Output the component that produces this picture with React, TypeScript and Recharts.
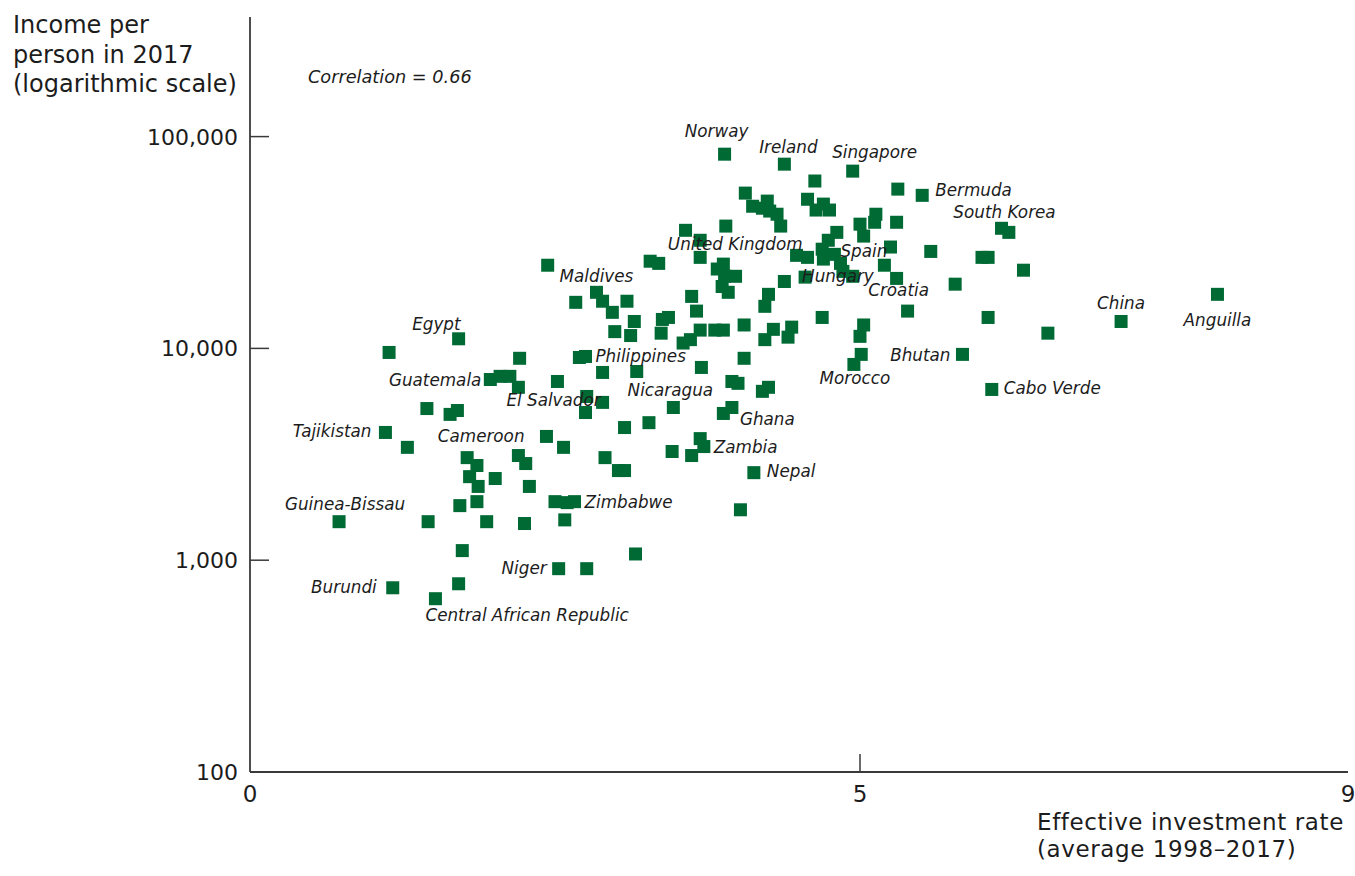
import React from 'react';
import { ScatterChart, Scatter, XAxis, YAxis } from 'recharts';

// ---------------- data ----------------
const countries: string[] = [
  'Norway', 'Ireland', 'Singapore', '', '', 'Bermuda', '', '', '', '',
  '', '', '', '', '', '', '', '', '', '',
  '', '', '', '', '', '', '', '', '', '',
  'United Kingdom', '', '', '', 'Spain', '', '', '', '', 'Croatia',
  '', 'Hungary', '', '', '', '', '', '', '', '',
  '', '', '', '', '', '', 'Maldives', '', '', '',
  '', '', '', '', '', '', '', '', '', '',
  '', '', '', '', '', '', '', '', '', '',
  '', '', 'Morocco', 'Bhutan', 'Cabo Verde', 'South Korea', '', '', '', '',
  '', '', 'China', 'Anguilla', '', 'Philippines', '', '', '', '',
  '', '', '', '', '', '', '', 'Nicaragua', '', 'Ghana',
  '', '', '', '', '', 'Zambia', '', '', '', '',
  'Nepal', '', '', 'Zimbabwe', '', '', '', '', '', 'Guinea-Bissau',
  '', '', '', '', 'Niger', '', 'Burundi', '', 'Central African Republic', 'Egypt',
  '', '', 'Guatemala', '', '', 'El Salvador', '', '', '', '',
  'Tajikistan', '', '', 'Cameroon', '', '', '', '', '', '',
  '',
];

const investment: number[] = [
  3.89, 4.38, 4.94, 4.63, 5.31, 5.51, 4.06, 4.12, 4.2, 4.24,
  4.26, 4.32, 4.35, 4.57, 4.64, 4.7, 4.75, 3.9, 3.57, 5.13,
  5.12, 5.0, 5.3, 4.81, 4.74, 5.03, 5.25, 5.58, 3.69, 3.69,
  4.48, 4.57, 4.69, 4.7, 4.79, 4.84, 4.86, 4.94, 5.2, 5.3,
  5.78, 4.55, 4.38, 4.25, 4.22, 5.39, 4.69, 3.83, 3.88, 3.89,
  3.87, 3.92, 3.98, 3.28, 3.35, 2.44, 2.84, 2.89, 2.97, 2.67,
  3.09, 3.62, 3.66, 3.15, 2.99, 3.12, 3.38, 3.43, 3.37, 3.69,
  3.81, 3.88, 3.55, 3.61, 4.05, 4.22, 4.29, 4.41, 4.44, 5.03,
  5.0, 5.01, 4.95, 5.84, 6.08, 6.16, 6.22, 6.0, 6.05, 6.34,
  6.05, 6.54, 7.14, 7.93, 2.7, 2.75, 3.17, 2.89, 3.7, 4.05,
  3.95, 4.0, 4.2, 4.25, 2.76, 2.89, 2.75, 3.47, 3.88, 3.95,
  3.07, 3.27, 2.57, 3.46, 3.69, 3.72, 3.62, 2.91, 3.02, 3.07,
  4.13, 4.02, 2.6, 2.66, 2.58, 2.5, 2.25, 1.94, 1.46, 0.73,
  1.72, 1.86, 1.74, 3.16, 2.53, 2.76, 1.17, 1.71, 1.52, 1.71,
  1.14, 2.21, 1.97, 2.05, 2.13, 2.2, 2.52, 1.45, 1.64, 1.7,
  1.11, 1.29, 2.43, 1.78, 1.86, 1.8, 1.87, 2.01, 2.2, 2.26,
  2.29,
];

const income: number[] = [
  82600, 74100, 68700, 61700, 56500, 52800, 54100, 46900, 45900, 49600,
  44500, 43000, 37800, 50600, 45000, 48000, 45000, 37800, 36100, 43000,
  39400, 38600, 39400, 35300, 32400, 33900, 30100, 28700, 32400, 26900,
  27500, 26900, 29400, 26400, 27800, 25200, 23100, 21900, 24700, 21400,
  20100, 21700, 20700, 18000, 15800, 15000, 14000, 23700, 25000, 21900,
  19600, 18400, 21900, 25800, 25200, 24700, 18400, 16700, 14800, 16500,
  16700, 17600, 15000, 13400, 12000, 11500, 13700, 14000, 11800, 12200,
  12200, 12200, 10600, 11000, 12900, 11000, 12300, 11300, 12600, 12900,
  11400, 9370, 8400, 9370, 6400, 36900, 35300, 26900, 26900, 23400,
  14000, 11800, 13400, 18000, 9060, 9160, 7780, 7700, 8130, 8980,
  6980, 6840, 6270, 6550, 5930, 5560, 4980, 5260, 4930, 5260,
  4230, 4460, 3410, 3260, 3750, 3440, 3120, 3050, 2650, 2650,
  2590, 1730, 1870, 1890, 1550, 1890, 1490, 1520, 1520, 1520,
  1810, 1890, 1110, 1070, 912, 912, 741, 774, 658, 11100,
  9570, 8980, 7130, 7380, 7380, 6550, 6980, 5200, 4880, 5090,
  4010, 3410, 3840, 3050, 2800, 2480, 2230, 2430, 3120, 2860,
  2230,
];

const xTicks: number[] = [0, 5, 9];
const yTicks: number[] = [100, 1000, 10000, 100000];

// label placement relative to each marker (style config)
const labelPlacement: Record<string, { dx: number; dy: number; anchor: 'start' | 'middle' | 'end' }> = {
  Norway: { dx: -8, dy: -17, anchor: 'middle' },
  Ireland: { dx: 4, dy: -11, anchor: 'middle' },
  Singapore: { dx: 22, dy: -13, anchor: 'middle' },
  Bermuda: { dx: 13, dy: 1, anchor: 'start' },
  'South Korea': { dx: 3, dy: -10.5, anchor: 'middle' },
  Spain: { dx: 6, dy: 3, anchor: 'start' },
  Hungary: { dx: -3, dy: 5, anchor: 'start' },
  'United Kingdom': { dx: 6, dy: -5, anchor: 'end' },
  Croatia: { dx: 2, dy: 18, anchor: 'middle' },
  Maldives: { dx: 0, dy: -10, anchor: 'middle' },
  Philippines: { dx: 10, dy: 6, anchor: 'start' },
  Nicaragua: { dx: -3, dy: -11, anchor: 'middle' },
  Morocco: { dx: 1, dy: 20, anchor: 'middle' },
  Bhutan: { dx: -12, dy: 7, anchor: 'end' },
  'Cabo Verde': { dx: 12, dy: 5, anchor: 'start' },
  China: { dx: 0, dy: -12, anchor: 'middle' },
  Anguilla: { dx: 0, dy: 32, anchor: 'middle' },
  Ghana: { dx: 8, dy: 18, anchor: 'start' },
  Zambia: { dx: 10, dy: 6, anchor: 'start' },
  Nepal: { dx: 13, dy: 4, anchor: 'start' },
  Zimbabwe: { dx: 10, dy: 6, anchor: 'start' },
  'El Salvador': { dx: -12, dy: 19, anchor: 'start' },
  Guatemala: { dx: -9, dy: 6, anchor: 'end' },
  Egypt: { dx: 2, dy: -9, anchor: 'end' },
  Tajikistan: { dx: -14, dy: 5, anchor: 'end' },
  Cameroon: { dx: 14, dy: -16, anchor: 'middle' },
  'Guinea-Bissau': { dx: 6, dy: -12, anchor: 'middle' },
  Niger: { dx: -12, dy: 5, anchor: 'end' },
  Burundi: { dx: -16, dy: 5, anchor: 'end' },
  'Central African Republic': { dx: -10, dy: 22, anchor: 'start' },
};

const points = countries.map((name, i) => ({ name, x: investment[i], y: income[i] }));
const labeled = points.filter((p) => p.name !== '');

// ---------------- styles ----------------
const FONT = "'DejaVu Sans', 'Open Sans', sans-serif";
const GREEN = '#006a35';
const INK = '#1c1c1c';
const AXIS = '#3a3a3a';

const W = 1355;
const H = 876;

function Square(props: any) {
  const { cx, cy } = props;
  if (cx == null || cy == null) return null;
  return <rect x={cx - 6.5} y={cy - 6.5} width={13} height={13} fill={GREEN} />;
}

function CountryLabel(props: any) {
  const { cx, cy, payload } = props;
  const p = labelPlacement[payload.name];
  if (!p || cx == null) return null;
  return (
    <text
      x={cx + p.dx}
      y={cy + p.dy}
      textAnchor={p.anchor}
      fontFamily={FONT}
      fontStyle="italic"
      fontSize={16.8}
      fill={INK}
    >
      {payload.name}
    </text>
  );
}

function XTick(props: any) {
  const { x, y, payload } = props;
  return (
    <g>
      {payload.value === 5 && (
        <line x1={x} x2={x} y1={y} y2={y - 18} stroke={AXIS} strokeWidth={1.5} />
      )}
      <text x={x} y={y + 30} textAnchor="middle" fontFamily={FONT} fontSize={23} fill={INK}>
        {payload.value}
      </text>
    </g>
  );
}

function YTick(props: any) {
  const { x, y, payload } = props;
  return (
    <g>
      {payload.value !== 100 && (
        <line x1={x} x2={x + 19} y1={y} y2={y} stroke={AXIS} strokeWidth={1.5} />
      )}
      <text x={x - 12} y={y + 8} textAnchor="end" fontFamily={FONT} fontSize={22} fill={INK}>
        {Number(payload.value).toLocaleString('en-US')}
      </text>
    </g>
  );
}

export default function App() {
  return (
    <div
      style={{
        position: 'fixed',
        left: 0,
        top: 0,
        width: W,
        height: H,
        background: '#fff',
        overflow: 'hidden',
      }}
    >
      <ScatterChart width={W} height={H} margin={{ top: 17, right: 7, bottom: 74, left: 0 }}>
        <XAxis
          type="number"
          dataKey="x"
          domain={[0, 9]}
          ticks={xTicks}
          interval={0}
          height={30}
          tickSize={0}
          tickMargin={0}
          tickLine={false}
          axisLine={{ stroke: AXIS, strokeWidth: 1.8 }}
          tick={<XTick />}
          allowDataOverflow
        />
        <YAxis
          type="number"
          dataKey="y"
          scale="log"
          domain={[100, 367000]}
          ticks={yTicks}
          interval={0}
          width={250}
          tickSize={0}
          tickMargin={0}
          tickLine={false}
          axisLine={{ stroke: AXIS, strokeWidth: 1.8 }}
          tick={<YTick />}
          allowDataOverflow
        />
        <Scatter data={points} shape={<Square />} isAnimationActive={false} />
        <Scatter data={labeled} shape={<CountryLabel />} isAnimationActive={false} />
      </ScatterChart>

      <svg
        width={W}
        height={H}
        style={{ position: 'absolute', left: 0, top: 0, pointerEvents: 'none' }}
      >
        <g fontFamily={FONT} fill={INK}>
          <text x={13} y={33} fontSize={24}>Income per</text>
          <text x={13} y={63} fontSize={24}>person in 2017</text>
          <text x={13} y={92} fontSize={24}>(logarithmic scale)</text>
          <text x={308} y={83} fontSize={17.7} fontStyle="italic">Correlation = 0.66</text>
          <text x={1037} y={830} fontSize={23} letterSpacing={0.6}>Effective investment rate</text>
          <text x={1037} y={857} fontSize={23} letterSpacing={0.6}>(average 1998–2017)</text>
        </g>
      </svg>
    </div>
  );
}
